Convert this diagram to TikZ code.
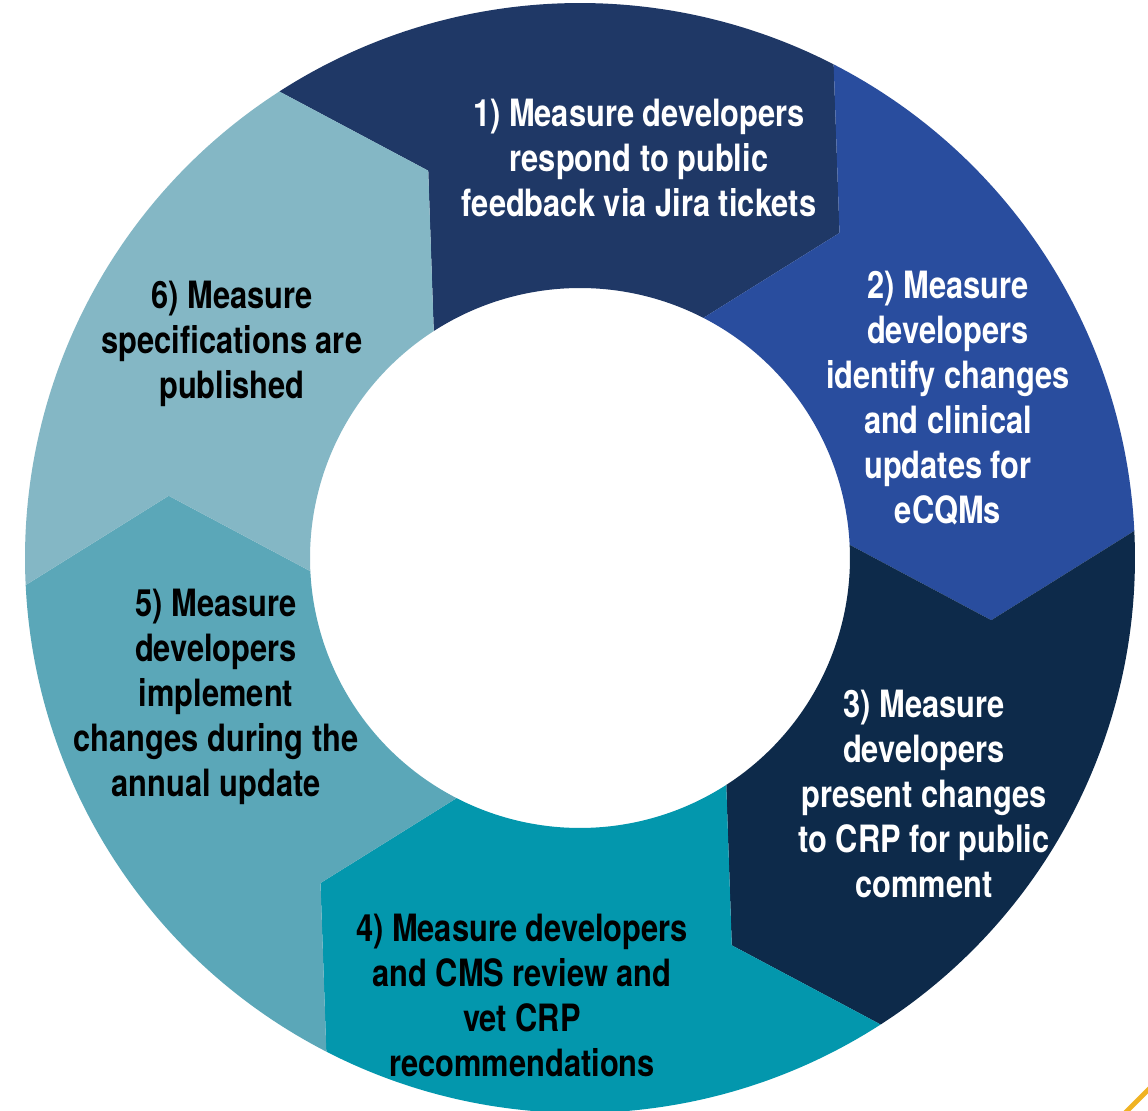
\documentclass[tikz,border=0pt]{standalone}
\usepackage{fontspec}
\setmainfont{TeX Gyre Heros}[FakeStretch=0.82]
\usepackage{tikz}
\usetikzlibrary{calc,positioning}
\definecolor{segA}{RGB}{31,56,102}
\definecolor{segB}{RGB}{41,77,158}
\definecolor{segC}{RGB}{13,42,74}
\definecolor{segD}{RGB}{3,151,173}
\definecolor{segE}{RGB}{91,167,184}
\definecolor{segF}{RGB}{132,183,197}
\definecolor{gold}{RGB}{240,179,35}

\begin{document}
\begin{tikzpicture}[stepbox/.style={align=center,inner sep=0pt,font=\bfseries\fontsize{10.7}{12.8}\selectfont}]
 \path[fill=white,use as bounding box] (-5.80,-5.53) rectangle (5.68,5.58);

 % ring pieces, clockwise from the top
 \fill[segA] (122.8:5.55) -- (111.4:4.16) -- (122.8:2.70) arc[start angle=122.8,end angle=62.8,radius=2.70]
 -- (51.4:4.16) -- (62.8:5.55) arc[start angle=62.8,end angle=122.8,radius=5.55] -- cycle;
 \fill[segB] (62.8:5.55) -- (51.4:4.16) -- (62.8:2.70) arc[start angle=62.8,end angle=2.8,radius=2.70]
 -- (-8.6:4.16) -- (2.8:5.55) arc[start angle=2.8,end angle=62.8,radius=5.55] -- cycle;
 \fill[segC] (2.8:5.55) -- (-8.6:4.16) -- (2.8:2.70) arc[start angle=2.8,end angle=-57.2,radius=2.70]
 -- (-68.6:4.16) -- (-57.2:5.55) arc[start angle=-57.2,end angle=2.8,radius=5.55] -- cycle;
 \fill[segD] (-57.2:5.55) -- (-68.6:4.16) -- (-57.2:2.70) arc[start angle=-57.2,end angle=-117.2,radius=2.70]
 -- (-128.6:4.16) -- (-117.2:5.55) arc[start angle=-117.2,end angle=-57.2,radius=5.55] -- cycle;
 \fill[segE] (-117.2:5.55) -- (-128.6:4.16) -- (-117.2:2.70) arc[start angle=-117.2,end angle=-177.2,radius=2.70]
 -- (-188.6:4.16) -- (-177.2:5.55) arc[start angle=-177.2,end angle=-117.2,radius=5.55] -- cycle;
 \fill[segF] (-177.2:5.55) -- (-188.6:4.16) -- (-177.2:2.70) arc[start angle=-177.2,end angle=-237.2,radius=2.70]
 -- (-248.6:4.16) -- (-237.2:5.55) arc[start angle=-237.2,end angle=-177.2,radius=5.55] -- cycle;

 \node[stepbox,white] (s1) at (0.59,4.00) {1) Measure developers\\respond to public\\feedback via Jira tickets};
 \node[stepbox,white] (s2) at (3.68,1.60) {2) Measure\\developers\\identify changes\\and clinical\\updates for\\eCQMs};
 \node[stepbox,white] (s3) at (3.44,-2.36) {3) Measure\\developers\\present changes\\to CRP for public\\comment};
 \node[stepbox] (s4) at (-0.58,-4.37) {4) Measure developers\\and CMS review and\\vet CRP\\recommendations};
 \node[stepbox] (s5) at (-3.64,-1.39) {5) Measure\\developers\\implement\\changes during the\\annual update};
 \node[stepbox] (s6) at (-3.48,2.14) {6) Measure\\specifications are\\published};

 \coordinate (g1) at (5.45,-5.55);
 \coordinate (g2) at (5.70,-5.30);
 \draw[gold,line width=1.4pt] (g1) -- (g2);
\end{tikzpicture}
\end{document}
